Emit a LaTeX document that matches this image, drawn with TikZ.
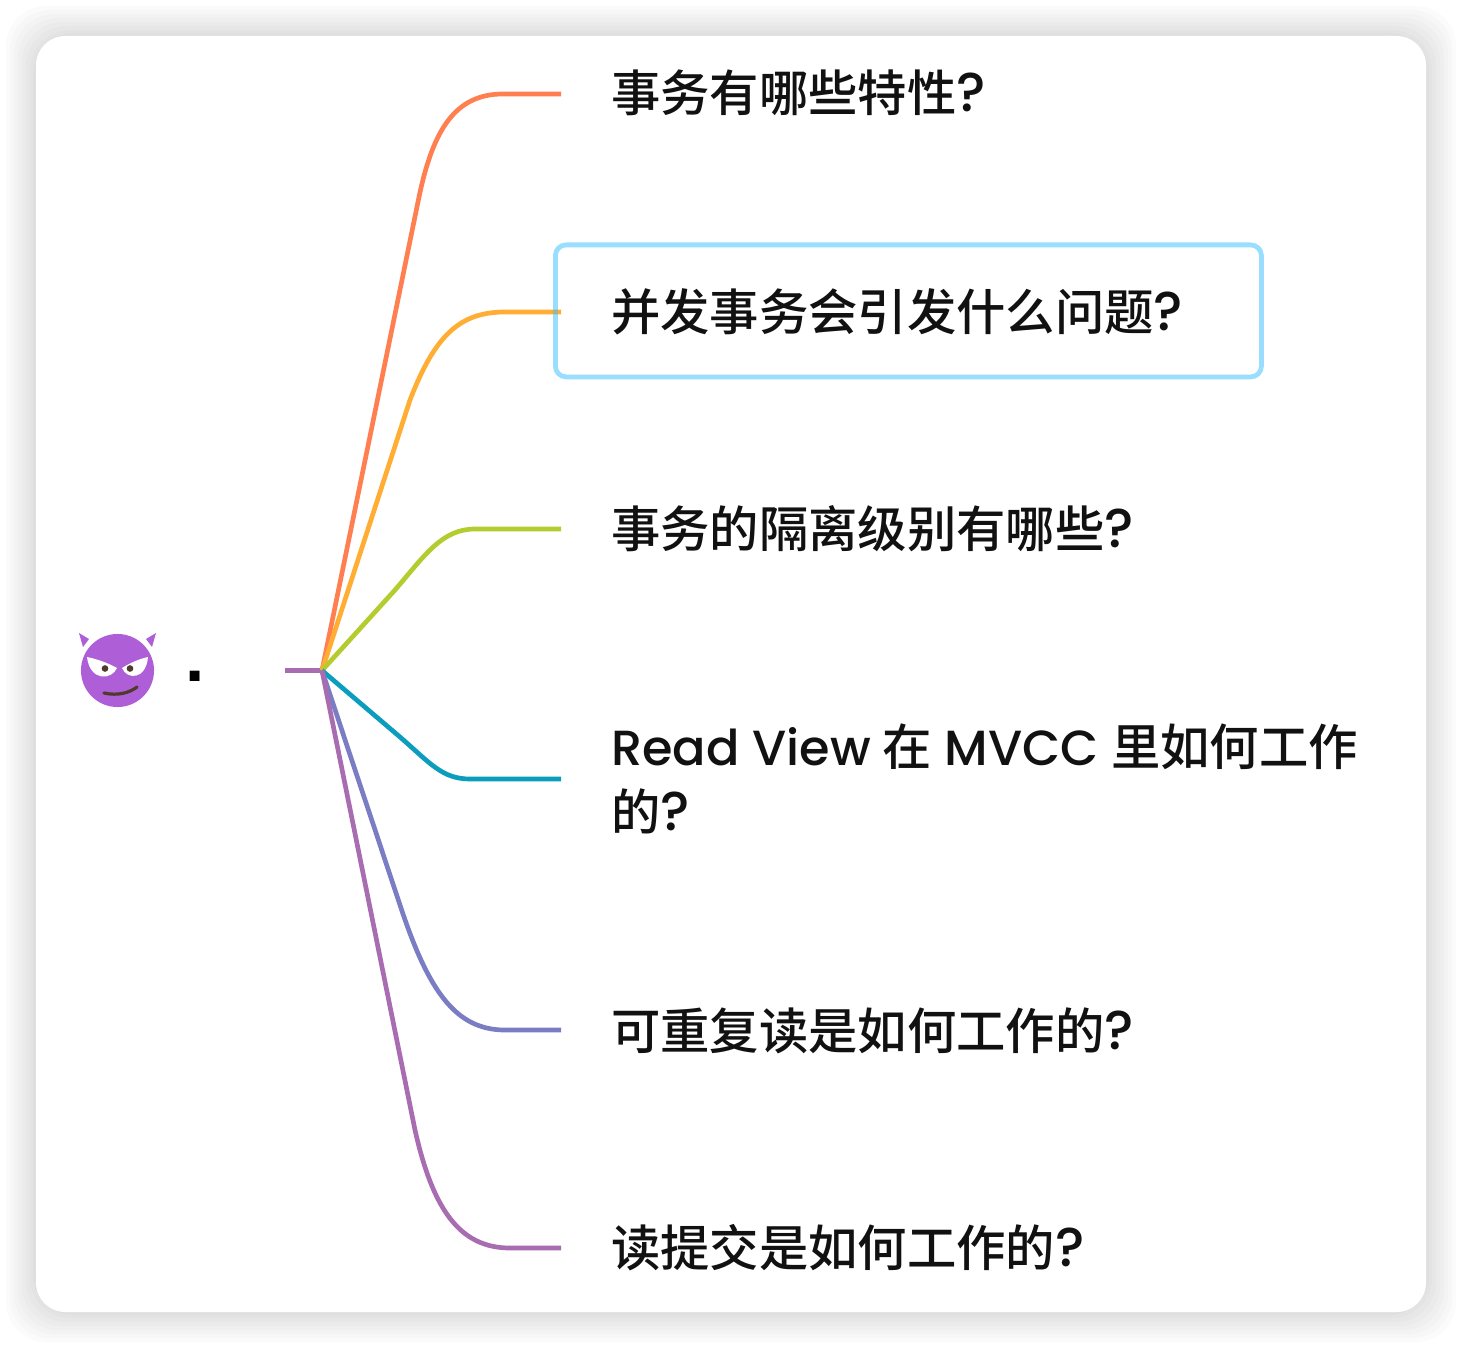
\documentclass[tikz,border=0pt]{standalone}
\usepackage{fontspec}
\newfontfamily\cjk{Noto Sans CJK SC Medium}
\newfontfamily\latinf{Poppins Medium}
\newfontfamily\dotf{Liberation Sans}[BoldFont={Liberation Sans Bold}]
\newcommand{\qm}{{\latinf\fontsize{41}{48.75}\selectfont ?}}
\definecolor{cA}{HTML}{FF7F50}
\definecolor{cB}{HTML}{FFAD33}
\definecolor{cC}{HTML}{B5CC2E}
\definecolor{cD}{HTML}{0A9DBD}
\definecolor{cE}{HTML}{7B7DC4}
\definecolor{cF}{HTML}{A86CB0}
\definecolor{hl}{HTML}{35BFFF}
\definecolor{devil}{HTML}{AE5FD8}
\definecolor{devilink}{HTML}{4F3A2C}
\definecolor{ink}{HTML}{111111}
\tikzset{
  x=0.75pt, y=-0.75pt,
  label/.style={anchor=base west, inner sep=0pt, text=ink, font=\cjk\fontsize{37}{48.75}\selectfont, align=left},
  branch/.style={line width=3.5pt, line cap=butt, line join=round},
  card/.style={fill=white, rounded corners=22pt},
  hlbox/.style={draw=hl, draw opacity=0.5, line width=3.6pt, rounded corners=8pt, inner sep=0pt, anchor=north west, minimum width=529.5pt, minimum height=99pt}
}
\begin{document}
\begin{tikzpicture}
\useasboundingbox (0,0) rectangle (1462,1348);
\fill[white] (0,0) rectangle (1462,1348);
% soft shadow of the card
\foreach \d in {30,26,22,18,14,10,6,3} {
  \fill[black, opacity=0.016, rounded corners=30pt] (36-\d,36-\d) rectangle (1426+\d,1312+\d);
}
\fill[card] (36,36) rectangle (1426,1312);
% hub and ends
\coordinate (start) at (285,670.5);
\coordinate (hub) at (322,670.5);
\coordinate (e1) at (561,94);
\coordinate (e2) at (561,312);
\coordinate (e3) at (561,529);
\coordinate (e4) at (561,779);
\coordinate (e5) at (561,1030);
\coordinate (e6) at (561,1248);
% connectors
\draw[branch, cF] (start) -- (hub);
\draw[branch, cA] (hub) -- (419,197) .. controls (433,130) and (455,94) .. (503,94) -- (e1);
\draw[branch, cB] (hub) -- (410,400) .. controls (435,335) and (460,312) .. (505,312) -- (e2);
\draw[branch, cC] (hub) -- (395,590) .. controls (425,555) and (442,529) .. (475,529) -- (e3);
\draw[branch, cD] (hub) -- (400,737) .. controls (430,763) and (442,779) .. (470,779) -- (e4);
\draw[branch, cE] (hub) -- (400,905) .. controls (428,990) and (455,1030) .. (505,1030) -- (e5);
\draw[branch, cF] (hub) -- (415,1130) .. controls (433,1210) and (460,1248) .. (510,1248) -- (e6);
% highlight
\node[hlbox] (box) at (553,242.5) {};
% labels
\node[label] (t1) at (611,112) {事务有哪些特性\qm};
\node[label] (t2) at (611,330) {并发事务会引发什么问题\qm};
\node[label] (t3) at (611,547) {事务的隔离级别有哪些\qm};
\node[label] (t4) at (611,765) {{\latinf Read View}\hspace{0.5pt} 在\hspace{1pt} {\latinf MVCC}\hspace{1pt} 里如何工作};
\node[label] (t4b) at (611,830) {的\qm};
\node[label] (t5) at (611,1049) {可重复读是如何工作的\qm};
\node[label] (t6) at (611,1266) {读提交是如何工作的\qm};
% devil emoji
\fill[devil] (117.5,670.5) circle[radius=27.4pt];
\fill[devil] (79,633) -- (89,639) -- (83,647) -- cycle;
\fill[devil] (156,633) -- (146,639) -- (152,647) -- cycle;
\fill[white] (87,657) .. controls (97,659) and (108,663) .. (117,668) .. controls (112,680) and (90,682) .. (87,657) -- cycle;
\fill[white] (148,657) .. controls (139,659) and (130,663) .. (122,668) .. controls (127,680) and (146,680) .. (148,657) -- cycle;
\fill[devilink] (105,668.5) circle[radius=2.5pt];
\fill[devilink] (130,668.5) circle[radius=2.5pt];
\draw[devilink, line width=2.4pt, line cap=round] (104,693) .. controls (118,696) and (129,693) .. (137,687);
\node[anchor=base west, inner sep=0pt, text=black, font=\dotf\bfseries\fontsize{52}{60}\selectfont] (dot) at (185,681) {.};
\end{tikzpicture}
\end{document}
